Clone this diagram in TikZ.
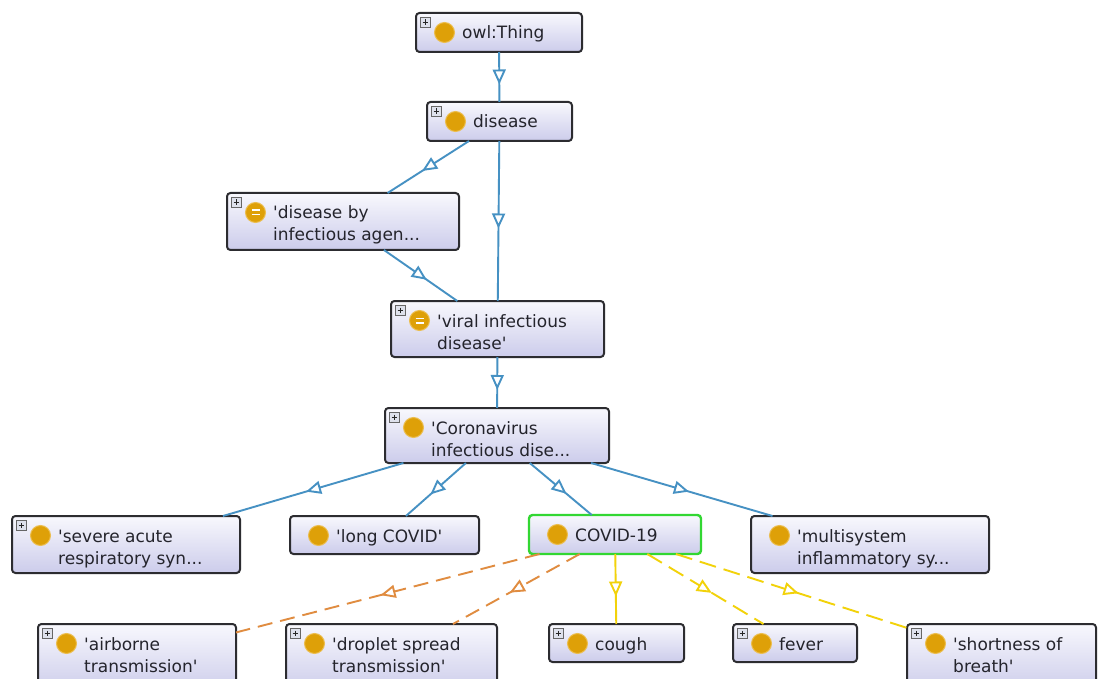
\documentclass[tikz,border=0pt]{standalone}
\usepackage{fontspec}
\setmainfont{DejaVu Sans}
\usetikzlibrary{arrows.meta,decorations.markings}

\definecolor{boxline}{RGB}{44,44,48}
\definecolor{boxtop}{RGB}{248,248,253}
\definecolor{boxbot}{RGB}{204,204,235}
\definecolor{labeltext}{RGB}{36,36,44}
\definecolor{classdot}{RGB}{222,160,8}
\definecolor{classring}{RGB}{236,190,80}
\definecolor{edgeblue}{RGB}{70,145,195}
\definecolor{edgeorange}{RGB}{224,140,64}
\definecolor{edgeyellow}{RGB}{242,210,10}
\definecolor{selgreen}{RGB}{50,215,50}
\definecolor{plusfill}{RGB}{222,225,236}

\newcommand\sq{\textquotesingle}

\tikzset{
  clsbox/.style={draw=boxline, line width=2pt, rounded corners=3.5pt,
    top color=boxtop, bottom color=boxbot, inner sep=0pt, outer sep=0pt},
  selected/.style={draw=selgreen, line width=2.4pt},
  lbl/.style={font=\fontsize{17}{22}\selectfont, text=labeltext, inner sep=0pt},
  midtip/.style={postaction={decorate}, decoration={markings,
    mark=at position 0.5 with {\arrow[xshift=7.5pt]{Triangle[length=15pt,width=13pt,fill=white,line width=1.9pt]}}}},
  isa/.style={draw=edgeblue, line width=1.9pt, midtip},
  orangelink/.style={draw=edgeorange, line width=1.9pt, dash pattern=on 15pt off 8pt, midtip},
  yellowlink/.style={draw=edgeyellow, line width=1.9pt, midtip},
  yellowdash/.style={yellowlink, dash pattern=on 17pt off 8pt},
}

% class box: name, left, top, right, bottom, extra options, line 1, line 2
\newcommand\owlclass[8]{%
  \node[clsbox,#6,minimum width={(#4-#2)*1pt},minimum height={(#5-#3)*1pt}]
    (#1) at ({(#2+#4)/2},{(#3+#5)/2}) {};
  \node[lbl,anchor=base west] (#1-a) at ([shift={(46pt,-26pt)}]#1.north west) {#7};
  \if\relax\detokenize{#8}\relax\else
    \node[lbl,anchor=base west] (#1-b) at ([shift={(46pt,-48pt)}]#1.north west) {#8};
  \fi
}
% expand toggle in the top left corner
\newcommand\plusicon[1]{%
  \begin{scope}[shift={(#1.north west)}]
    \filldraw[fill=plusfill, draw=black!60, line width=0.8pt] (4.5,4.5) rectangle (14,14);
    \draw[black!85, line width=1.1pt] (6.5,9.25) -- (12,9.25) (9.25,6.5) -- (9.25,12);
  \end{scope}}
% class marker
\newcommand\classicon[1]{%
  \filldraw[fill=classdot, draw=classring, line width=1pt]
    ([shift={(28.5pt,-19.5pt)}]#1.north west) circle[radius=10pt];}
% defined-class marker (equivalence bars)
\newcommand\eqicon[1]{%
  \classicon{#1}
  \begin{scope}[shift={([shift={(28.5pt,-19.5pt)}]#1.north west)}]
    \draw[white, line width=1.6pt] (-4,-2.2) -- (4,-2.2) (-4,2.2) -- (4,2.2);
  \end{scope}}

\begin{document}
\begin{tikzpicture}[x=1pt,y=-1pt]
\clip (0,0) rectangle (1098,679);
\fill[white] (0,0) rectangle (1098,679);

% class hierarchy
\owlclass{thing}{416}{13}{582}{52}{}{owl:Thing}{}
\owlclass{disease}{427}{102}{572}{141}{}{disease}{}
\owlclass{agent}{227}{193}{459}{250}{}{\sq disease by}{infectious agen...}
\owlclass{viral}{391}{301}{604}{357}{}{\sq viral infectious}{disease\sq}
\owlclass{corona}{385}{408}{609}{463}{}{\sq Coronavirus}{infectious dise...}
\owlclass{sars}{12}{516}{240}{573}{}{\sq severe acute}{respiratory syn...}
\owlclass{long}{290}{516}{479}{554}{}{\sq long COVID\sq}{}
\owlclass{covid}{529}{515}{701}{554}{selected}{COVID-19}{}
\owlclass{mis}{751}{516}{989}{573}{}{\sq multisystem}{inflammatory sy...}
\owlclass{air}{38}{624}{236}{692}{}{\sq airborne}{transmission\sq}
\owlclass{drop}{286}{624}{497}{692}{}{\sq droplet spread}{transmission\sq}
\owlclass{cough}{549}{624}{684}{662}{}{cough}{}
\owlclass{fever}{733}{624}{857}{662}{}{fever}{}
\owlclass{breath}{907}{624}{1096}{692}{}{\sq shortness of}{breath\sq}

\foreach \n in {thing,disease,agent,viral,corona,sars,air,drop,cough,fever,breath}
  {\plusicon{\n}}
\foreach \n in {thing,disease,corona,sars,long,covid,mis,air,drop,cough,fever,breath}
  {\classicon{\n}}
\eqicon{agent}
\eqicon{viral}

% subclass links
\draw[isa] (thing) -- (disease);
\draw[isa] (disease) -- (agent);
\draw[isa] (disease) -- (viral);
\draw[isa] (agent) -- (viral);
\draw[isa] (viral) -- (corona);
\draw[isa] (corona) -- (sars);
\draw[isa] (corona) -- (long);
\draw[isa] (corona) -- (covid);
\draw[isa] (corona) -- (mis);

% property links from COVID-19
\draw[orangelink] (covid) -- (air);
\draw[orangelink] (covid) -- (drop);
\draw[yellowlink] (covid) -- (cough);
\draw[yellowdash] (covid) -- (fever);
\draw[yellowdash] (covid) -- (breath);
\end{tikzpicture}
\end{document}
